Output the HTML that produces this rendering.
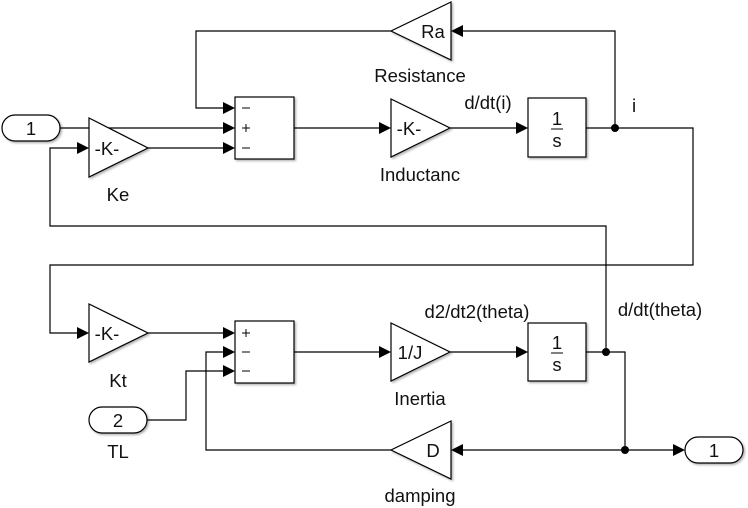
<!DOCTYPE html>
<html><head><style>body{margin:0;background:#fff}svg{display:block}text{font-family:"Liberation Sans",Arial,sans-serif;fill:#111}</style></head>
<body>
<svg width="748" height="508" viewBox="0 0 748 508" xmlns="http://www.w3.org/2000/svg">
<defs>
<filter id="sh" x="-10%" y="-10%" width="130%" height="130%"><feDropShadow dx="1.5" dy="1.5" stdDeviation="1" flood-color="#000" flood-opacity="0.3"/></filter>
</defs>
<g stroke="#000" stroke-width="1.2" fill="none">
<polyline points="615,128 615,31 463,31"/>
<polyline points="391,31 196,31 196,108 223,108"/>
<line x1="60" y1="128" x2="223" y2="128"/>
<line x1="148" y1="148" x2="223" y2="148"/>
<polyline points="606,352 606,226 50,226 50,148 77,148"/>
<line x1="294" y1="128" x2="379" y2="128"/>
<line x1="450" y1="128" x2="516" y2="128"/>
<polyline points="586,128 693,128 693,265 50,265 50,333 77,333"/>
<line x1="148" y1="333" x2="223" y2="333"/>
<line x1="294" y1="352" x2="379" y2="352"/>
<line x1="450" y1="352" x2="516" y2="352"/>
<polyline points="586,352 625,352 625,450 673,450"/>
<line x1="625" y1="450" x2="463" y2="450"/>
<polyline points="391,450 206,450 206,352 223,352"/>
<polyline points="147,420 186,420 186,371 223,371"/>
</g>
<g fill="#000">
<polygon points="223,102 235,108 223,114"/>
<polygon points="223,122 235,128 223,134"/>
<polygon points="223,142 235,148 223,154"/>
<polygon points="77,142 89,148 77,154"/>
<polygon points="463,25 451,31 463,37"/>
<polygon points="379,122 391,128 379,134"/>
<polygon points="516,122 528,128 516,134"/>
<polygon points="77,327 89,333 77,339"/>
<polygon points="223,327 235,333 223,339"/>
<polygon points="223,346 235,352 223,358"/>
<polygon points="223,365 235,371 223,377"/>
<polygon points="379,346 391,352 379,358"/>
<polygon points="516,346 528,352 516,358"/>
<polygon points="463,444 451,450 463,456"/>
<polygon points="673,444 685,450 673,456"/>
<circle cx="615" cy="128" r="4"/>
<circle cx="606" cy="352" r="4"/>
<circle cx="625" cy="450" r="4"/>
</g>
<g stroke="#000" stroke-width="1.2" fill="#fff" filter="url(#sh)">
<rect x="2" y="115" width="58" height="26" rx="13"/>
<rect x="89" y="407" width="58" height="26" rx="13"/>
<rect x="685" y="437" width="58" height="26" rx="13"/>
<polygon points="89,118 148,148 89,177"/>
<polygon points="89,304 148,333 89,362"/>
<polygon points="391,99 450,128 391,157"/>
<polygon points="391,323 450,352 391,381"/>
<polygon points="451,2 391,31 451,60"/>
<polygon points="451,421 391,450 451,479"/>
<rect x="235" y="97" width="59" height="62"/>
<rect x="235" y="321" width="59" height="62"/>
<rect x="528" y="98" width="58" height="59"/>
<rect x="528" y="323" width="58" height="58"/>
</g>
<g font-size="18.5">
<text x="31" y="135" text-anchor="middle">1</text>
<text x="118" y="427" text-anchor="middle">2</text>
<text x="714" y="457" text-anchor="middle">1</text>
<text x="107" y="155" text-anchor="middle">-K-</text>
<text x="107" y="340" text-anchor="middle">-K-</text>
<text x="409" y="135" text-anchor="middle">-K-</text>
<text x="410" y="359" text-anchor="middle">1/J</text>
<text x="433" y="38" text-anchor="middle">Ra</text>
<text x="433" y="457" text-anchor="middle">D</text>
<text x="557" y="125" text-anchor="middle">1</text>
<text x="557" y="147" text-anchor="middle">s</text>
<text x="557" y="349" text-anchor="middle">1</text>
<text x="557" y="371" text-anchor="middle">s</text>
<text x="118" y="201" text-anchor="middle">Ke</text>
<text x="118" y="387" text-anchor="middle">Kt</text>
<text x="118" y="458" text-anchor="middle">TL</text>
<text x="420" y="82" text-anchor="middle">Resistance</text>
<text x="420" y="181" text-anchor="middle">Inductanc</text>
<text x="420" y="405" text-anchor="middle">Inertia</text>
<text x="420" y="502" text-anchor="middle">damping</text>
<text x="488" y="109" text-anchor="middle">d/dt(i)</text>
<text x="634" y="112" text-anchor="middle">i</text>
<text x="477" y="318" text-anchor="middle">d2/dt2(theta)</text>
<text x="660" y="316" text-anchor="middle">d/dt(theta)</text>
</g>
<g stroke="#000" stroke-width="1">
<line x1="551" y1="129" x2="563" y2="129"/>
<line x1="551" y1="353" x2="563" y2="353"/>
<line x1="242" y1="108" x2="250" y2="108"/>
<line x1="242" y1="148" x2="250" y2="148"/>
<line x1="242" y1="128" x2="250" y2="128"/><line x1="246" y1="124" x2="246" y2="132"/>
<line x1="242" y1="333" x2="250" y2="333"/><line x1="246" y1="329" x2="246" y2="337"/>
<line x1="242" y1="352" x2="250" y2="352"/>
<line x1="242" y1="371" x2="250" y2="371"/>
</g>
</svg>
</body></html>
